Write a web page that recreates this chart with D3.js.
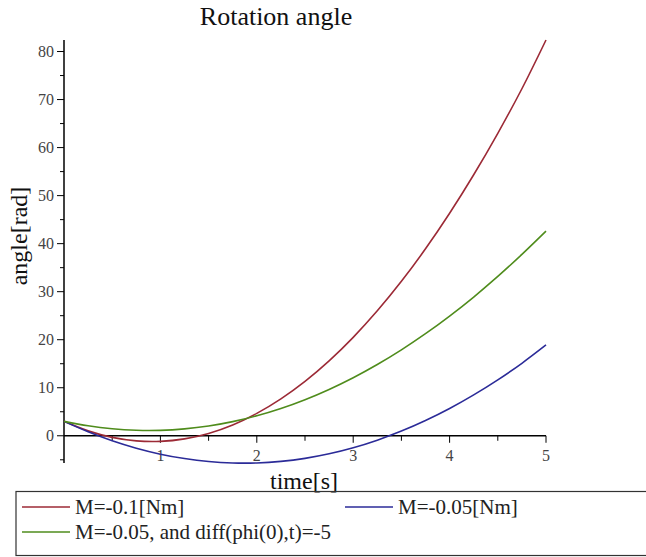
<!DOCTYPE html>
<html>
<head>
<meta charset="utf-8">
<script src="https://cdn.jsdelivr.net/npm/d3@7"></script>
<style>
  body { margin: 0; background: #fff; }
  svg text { font-family: "Liberation Serif", "Times New Roman", serif; }
</style>
</head>
<body>
<div id="chart"></div>
<script>
// time samples [s]
var times = [0, 0.25, 0.5, 0.75, 1, 1.25, 1.5, 1.75, 2, 2.25, 2.5, 2.75, 3,
             3.25, 3.5, 3.75, 4, 4.25, 4.5, 4.75, 5];

// angle [rad]
var angleM01 = [3, 1.02, -0.34, -1.07, -1.17, -0.65, 0.49, 2.26, 4.66, 7.68, 11.32,
                15.59, 20.49, 26.01, 32.15, 38.92, 46.32, 54.34, 62.98, 72.25, 82.4];
var angleM005 = [3, 0.83, -1.04, -2.59, -3.83, -4.75, -5.37, -5.67, -5.66, -5.33, -4.70,
                 -3.75, -2.49, -0.91, 0.97, 3.17, 5.68, 8.51, 11.64, 15.09, 18.9];
var angleM005v = [3, 2.07, 1.45, 1.14, 1.13, 1.43, 2.03, 2.94, 4.16, 5.68, 7.51,
                  9.65, 12.09, 14.84, 17.89, 21.25, 24.92, 28.89, 33.17, 37.76, 42.6];

var seriesNames = ["M=-0.1[Nm]", "M=-0.05[Nm]", "M=-0.05, and diff(phi(0),t)=-5"];
var seriesColors = ["#9c2a36", "#2b2b98", "#4f8c1c"];

var xTicks = [1, 2, 3, 4, 5];
var yTicks = [0, 10, 20, 30, 40, 50, 60, 70, 80];

var series = [angleM01, angleM005, angleM005v].map(function (vals, i) {
    return {
        name: seriesNames[i],
        color: seriesColors[i],
        values: vals.map(function (v, j) { return {t: times[j], v: v}; })
    };
});

var W = 646, H = 557;
var plotLeft = 64, plotRight = 546, plotTop = 40, plotBottom = 463;

var allVals = [].concat(angleM01, angleM005, angleM005v);

var x = d3.scaleLinear()
    .domain([0, 5])
    .range([plotLeft, plotRight]);

var y = d3.scaleLinear()
    .domain([d3.min(allVals), d3.max(allVals)])
    .range([plotBottom, plotTop]);

var svg = d3.select("#chart")
    .append("svg")
    .attr("width", W)
    .attr("height", H);

// title
svg.append("text")
    .attr("x", 276)
    .attr("y", 25)
    .attr("text-anchor", "middle")
    .style("font-size", "26px")
    .attr("fill", "#111")
    .text("Rotation angle");

// y axis (at t = 0)
var yAxis = svg.append("g")
    .attr("transform", "translate(" + x(0) + ",0)");
yAxis.append("line")
    .attr("y1", y.range()[0]).attr("y2", y.range()[1])
    .attr("stroke", "#000").attr("stroke-width", 1.5);
yAxis.selectAll(".minor")
    .data(d3.range(-5, 85, 5).filter(function (d) { return d % 10 !== 0; }))
    .enter().append("line")
    .attr("x1", -4).attr("x2", 0)
    .attr("y1", function (d) { return y(d); })
    .attr("y2", function (d) { return y(d); })
    .attr("stroke", "#000");
yAxis.selectAll(".major")
    .data(yTicks)
    .enter().append("line")
    .attr("x1", -7).attr("x2", 0)
    .attr("y1", function (d) { return y(d); })
    .attr("y2", function (d) { return y(d); })
    .attr("stroke", "#000");
yAxis.selectAll(".lbl")
    .data(yTicks)
    .enter().append("text")
    .attr("x", -10)
    .attr("y", function (d) { return y(d); })
    .attr("dy", "0.34em")
    .attr("text-anchor", "end")
    .style("font-size", "16px")
    .attr("fill", "#444")
    .text(function (d) { return d; });

// x axis (at angle = 0)
var xAxis = svg.append("g")
    .attr("transform", "translate(0," + y(0) + ")");
xAxis.append("line")
    .attr("x1", x(0)).attr("x2", x(5))
    .attr("stroke", "#000").attr("stroke-width", 1.5);
xAxis.selectAll(".minor")
    .data([0.5, 1.5, 2.5, 3.5, 4.5])
    .enter().append("line")
    .attr("x1", function (d) { return x(d); })
    .attr("x2", function (d) { return x(d); })
    .attr("y1", 0).attr("y2", 5)
    .attr("stroke", "#000");
xAxis.selectAll(".major")
    .data(xTicks)
    .enter().append("line")
    .attr("x1", function (d) { return x(d); })
    .attr("x2", function (d) { return x(d); })
    .attr("y1", 0).attr("y2", 7)
    .attr("stroke", "#000");
xAxis.selectAll(".lbl")
    .data(xTicks)
    .enter().append("text")
    .attr("x", function (d) { return x(d); })
    .attr("y", 25)
    .attr("text-anchor", "middle")
    .style("font-size", "16px")
    .attr("fill", "#444")
    .text(function (d) { return d; });

// axis labels
svg.append("text")
    .attr("x", 304)
    .attr("y", 489)
    .attr("text-anchor", "middle")
    .style("font-size", "24px")
    .attr("fill", "#111")
    .text("time[s]");

svg.append("text")
    .attr("transform", "translate(27,236) rotate(-90)")
    .attr("text-anchor", "middle")
    .style("font-size", "24px")
    .attr("fill", "#111")
    .text("angle[rad]");

// curves
var line = d3.line()
    .x(function (d) { return x(d.t); })
    .y(function (d) { return y(d.v); })
    .curve(d3.curveCatmullRom);

svg.selectAll(".curve")
    .data(series)
    .enter().append("path")
    .attr("fill", "none")
    .attr("stroke", function (d) { return d.color; })
    .attr("stroke-width", 1.6)
    .attr("d", function (d) { return line(d.values); });

// legend
var legend = svg.append("g");
legend.append("rect")
    .attr("x", 16).attr("y", 491.5)
    .attr("width", 660).attr("height", 64)
    .attr("fill", "none")
    .attr("stroke", "#333")
    .attr("stroke-width", 1.2);

var legendPos = [{x: 22, y: 507}, {x: 345, y: 507}, {x: 22, y: 532}];
var items = legend.selectAll(".item")
    .data(series)
    .enter().append("g")
    .attr("transform", function (d, i) {
        return "translate(" + legendPos[i].x + "," + legendPos[i].y + ")";
    });
items.append("line")
    .attr("x1", 0).attr("x2", 48)
    .attr("stroke", function (d) { return d.color; })
    .attr("stroke-width", 1.6);
items.append("text")
    .attr("x", 53)
    .attr("dy", "0.33em")
    .style("font-size", "21px")
    .attr("fill", "#222")
    .text(function (d) { return d.name; });
</script>
</body>
</html>
